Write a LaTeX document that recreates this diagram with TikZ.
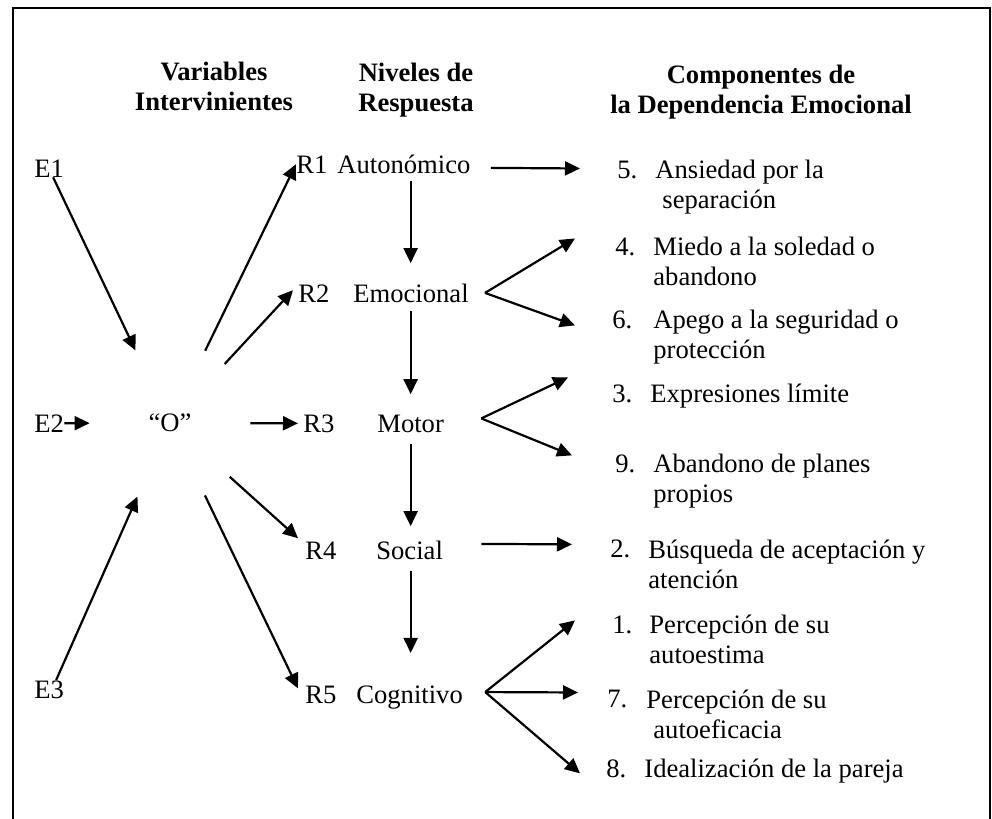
\documentclass[tikz,border=0pt]{standalone}
\usepackage{fontspec}
\setmainfont{Liberation Serif}
\usetikzlibrary{arrows.meta}
\begin{document}
\begin{tikzpicture}[x=0.5pt,y=-0.5pt,
        txt/.style={inner sep=0pt,anchor=base west,align=left,
            font=\fontsize{13.3}{15}\selectfont},
        head/.style={inner sep=0pt,anchor=base,align=center,
            font=\fontsize{13.3}{15}\selectfont\bfseries},
        arr/.style={-{Triangle[length=7.5pt,width=7pt]},line width=1.1pt}]
    \useasboundingbox (0,0) rectangle (992,819);
    \draw[line width=0.9pt] (13,819) |- (990,8) -- (990,819);

    \node[head] (hvar) at (214,110) {Variables\\Intervinientes};
    \node[head] (hniv) at (416,112) {Niveles de\\Respuesta};
    \node[head] (hcomp) at (761,113) {Componentes de\\la Dependencia Emocional};

    \node[txt] (e1) at (34,177) {E1};
    \node[txt] (e2) at (34,432) {E2};
    \node[txt] (e3) at (34,698) {E3};
    \node[circle,inner sep=0pt,minimum size=80,
        font=\fontsize{13.3}{15}\selectfont] (o) at (170,423) {“O”};

    \node[txt] (r1) at (296,173) {R1};
    \node[txt] (r2) at (298,302) {R2};
    \node[txt] (r3) at (303,432) {R3};
    \node[txt] (r4) at (305,559) {R4};
    \node[txt] (r5) at (305,703) {R5};
    \node[txt] (aut) at (337,173) {Autonómico};
    \node[txt] (emo) at (353,302) {Emocional};
    \node[txt] (mot) at (377,432) {Motor};
    \node[txt] (soc) at (376,559) {Social};
    \node[txt] (cog) at (356,703) {Cognitivo};

    \node[txt] (n5) at (617,178) {5.};
    \node[txt] (n4) at (615,255) {4.};
    \node[txt] (n6) at (612,328) {6.};
    \node[txt] (n3) at (612,402) {3.};
    \node[txt] (n9) at (615,472) {9.};
    \node[txt] (n2) at (610,557) {2.};
    \node[txt] (n1) at (612,633) {1.};
    \node[txt] (n7) at (607,707) {7.};
    \node[txt] (n8) at (606,777) {8.};
    \node[txt] (c5) at (655,208) {Ansiedad por la\\\hspace{3.5pt}separación};
    \node[txt] (c4) at (653,285) {Miedo a la soledad o\\abandono};
    \node[txt] (c6) at (653,358) {Apego a la seguridad o\\protección};
    \node[txt] (c3) at (650,402) {Expresiones límite};
    \node[txt] (c9) at (653,502) {Abandono de planes\\propios};
    \node[txt] (c2) at (648,588) {Búsqueda de aceptación y\\atención};
    \node[txt] (c1) at (649,663) {Percepción de su\\autoestima};
    \node[txt] (c7) at (646,738) {Percepción de su\\\hspace{3.5pt}autoeficacia};
    \node[txt] (c8) at (644,777) {Idealización de la pareja};

    \draw[arr] ([xshift=2pt]e1.south) -- (o);
    \draw[arr] (e2.east) -- (o);
    \draw[arr] ([xshift=3.5pt]e3.north) -- (o);

    \draw[arr] (o) -- (r1.west);
    \draw[arr] (o) -- ([shift={(-5,-3)}]r2.west);
    \draw[arr] (o) -- ([xshift=-2.5pt]r3.west);
    \draw[arr] (o) -- ([shift={(-7,-12)}]r4.west);
    \draw[arr] (o) -- ([shift={(-7,-6)}]r5.west);

    \draw[arr,shorten <=3.5pt,shorten >=10pt] (aut.south -| mot.south) -- (emo.north -| mot.south);
    \draw[arr,shorten <=4pt,shorten >=10pt] (emo.south -| mot.south) -- (mot.north);
    \draw[arr,shorten <=5.5pt,shorten >=7pt] (mot.south) -- (soc.north -| mot.south);
    \draw[arr,shorten <=5.5pt,shorten >=16pt] (soc.south -| mot.south) -- (cog.north -| mot.south);

    \coordinate (aut-v) at ([shift={(20,4)}]aut.east);
    \coordinate (emo-v) at ([shift={(16,0)}]emo.east);
    \coordinate (mot-v) at ([shift={(37,-5)}]mot.east);
    \coordinate (soc-v) at ([shift={(38,-6)}]soc.east);
    \coordinate (cog-v) at ([shift={(22,-5)}]cog.east);

    \draw[arr] (aut-v) -- ([shift={(-37,-1)}]n5.west);
    \draw[arr] (emo-v) -- ([shift={(-40,-8)}]n4.west);
    \draw[arr] (emo-v) -- ([shift={(-37,6)}]n6.west);
    \draw[arr] (mot-v) -- ([shift={(-44,-16)}]n3.west);
    \draw[arr] (mot-v) -- ([shift={(-43,-8)}]n9.west);
    \draw[arr] (soc-v) -- ([shift={(-38,-4)}]n2.west);
    \draw[arr] (cog-v) -- ([shift={(-37,-4)}]n1.west);
    \draw[arr] (cog-v) -- ([shift={(-29,-6)}]n7.west);
    \draw[arr] (cog-v) -- ([shift={(-26,5)}]n8.west);
\end{tikzpicture}
\end{document}
